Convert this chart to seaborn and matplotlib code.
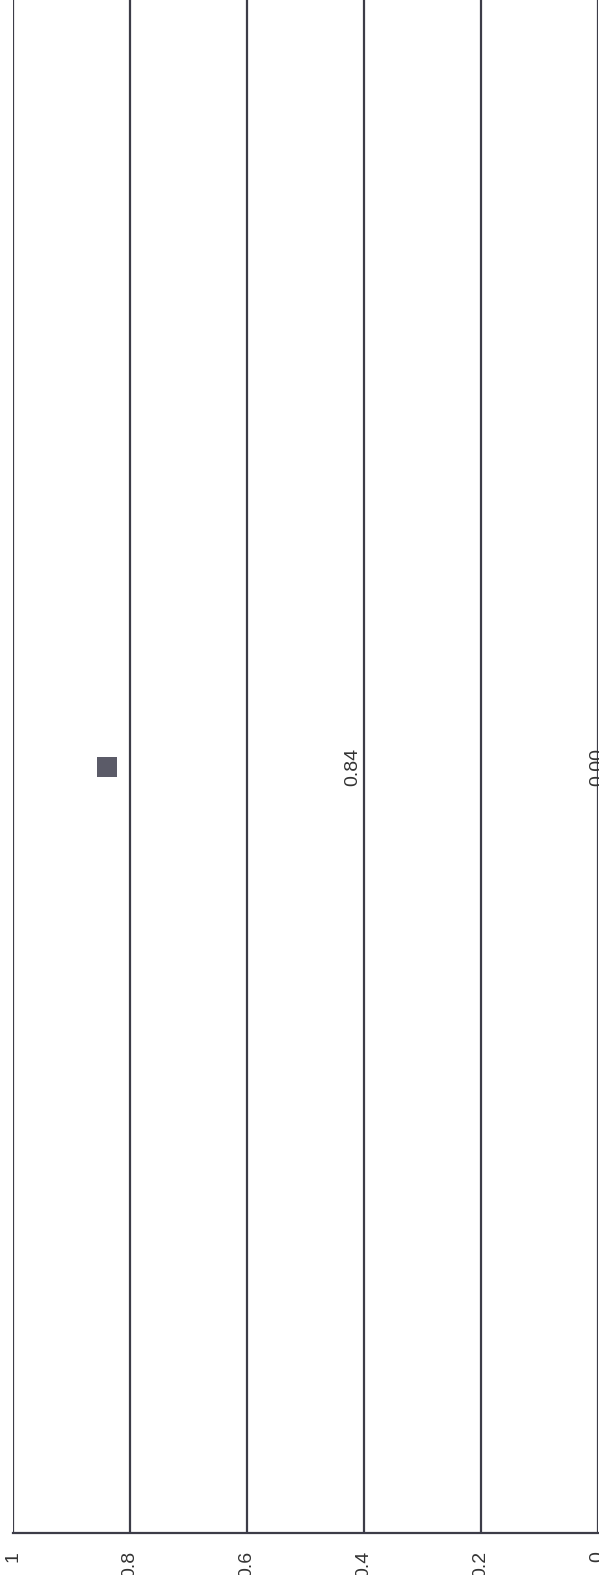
import numpy as np
import seaborn as sns
import pandas as pd
import matplotlib.pyplot as plt

categories = ['A']
bar_values = [0.84]
second_values = [0.00]
marker_values = [0.84]
ticks = [0, 0.2, 0.4, 0.6, 0.8, 1]
tick_labels = ['0', '0.2', '0.4', '0.6', '0.8', '1']

sns.set_style('white')
plt.rcParams['font.family'] = ['Liberation Sans', 'DejaVu Sans']

line_col = '#3c3c48'
text_col = '#333333'

fig = plt.figure(figsize=(5.99, 15.75), dpi=100)
ax = fig.add_axes([13/599, 42/1575, 585/599, 1533/1575])

df = pd.DataFrame({'cat': categories, 'value': bar_values})
df2 = pd.DataFrame({'cat': categories, 'value': second_values})
dm = pd.DataFrame({'cat': categories, 'value': marker_values})

sns.barplot(data=df, x='value', y='cat', color='white', ax=ax, width=0.6, linewidth=0)
sns.barplot(data=df2, x='value', y='cat', color='white', ax=ax, width=0.6, linewidth=0)

ax.bar_label(ax.containers[0], labels=['%.2f' % v for v in bar_values],
             label_type='center', rotation=90, fontsize=14, color=text_col)
ax.bar_label(ax.containers[1], labels=['%.2f' % v for v in second_values],
             label_type='center', rotation=90, fontsize=14, color=text_col)

sns.scatterplot(data=dm, x='value', y='cat', marker='s', s=225, color='#5b5b68',
                linewidth=0, ax=ax, zorder=5)

ax.set_xlim(1, 0)
ax.set_ylim(1, -1)
ax.set_xticks(ticks)
ax.set_xticklabels(tick_labels, rotation=90)
ax.tick_params(axis='x', length=0, pad=13, labelsize=14, labelcolor=text_col)
ax.set_yticks([])
ax.set_xlabel('')
ax.set_ylabel('')

ax.xaxis.grid(True, color=line_col, lw=1.6)
ax.set_axisbelow(False)
sns.despine(ax=ax, left=True, top=True, right=True)
ax.spines['bottom'].set_color(line_col)
ax.spines['bottom'].set_linewidth(1.6)

fig.savefig('out.png', dpi=100)
